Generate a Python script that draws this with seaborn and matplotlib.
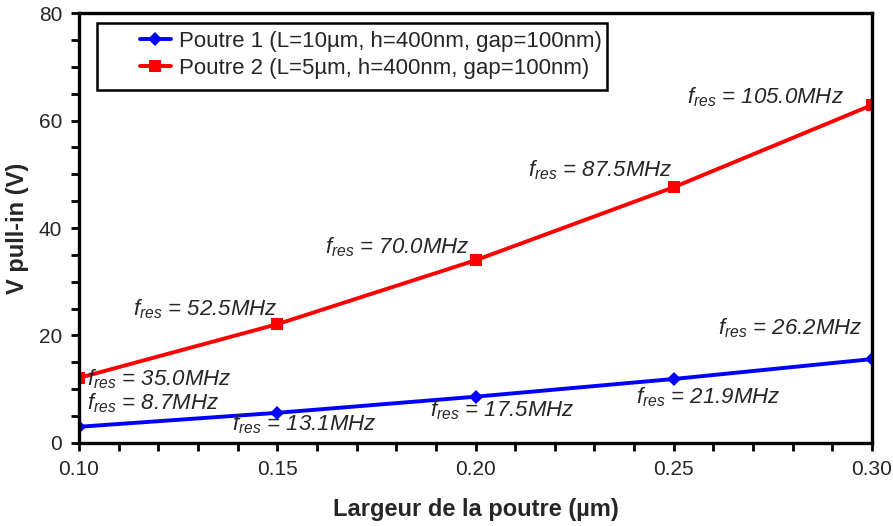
import matplotlib
matplotlib.use("Agg")
import matplotlib.pyplot as plt
import seaborn as sns
import pandas as pd
from matplotlib.ticker import MultipleLocator, FormatStrFormatter
from matplotlib.patches import Rectangle

sns.set_style("white")
plt.rcParams['font.family'] = ['Liberation Sans', 'DejaVu Sans']
plt.rcParams['mathtext.fontset'] = 'custom'
plt.rcParams['mathtext.it'] = 'Liberation Sans:italic'
plt.rcParams['mathtext.rm'] = 'Liberation Sans:italic'

largeur = [0.10, 0.15, 0.20, 0.25, 0.30]
v_poutre1 = [3.0, 5.6, 8.6, 11.9, 15.6]
v_poutre2 = [12.1, 22.1, 34.0, 47.6, 62.9]
label1 = "Poutre 1 (L=10µm, h=400nm, gap=100nm)"
label2 = "Poutre 2 (L=5µm, h=400nm, gap=100nm)"

f_res1 = ["8.7MHz", "13.1MHz", "17.5MHz", "21.9MHz", "26.2MHz"]
f_res2 = ["35.0MHz", "52.5MHz", "70.0MHz", "87.5MHz", "105.0MHz"]
pos1 = [(0.102, 7.3), (0.1386, 3.5), (0.1885, 6.0), (0.2405, 8.5), (0.2612, 21.3)]
pos2 = [(0.102, 11.8), (0.1136, 24.8), (0.162, 36.4), (0.2132, 50.7), (0.2533, 64.3)]

df = pd.DataFrame({
    "x": largeur + largeur,
    "y": v_poutre1 + v_poutre2,
    "serie": [label1] * len(largeur) + [label2] * len(largeur),
})

fig = plt.figure(figsize=(8.93, 5.26), dpi=100)
ax = fig.add_axes([0.0885, 0.158, 0.888, 0.817])

sns.lineplot(data=df, x="x", y="y", hue="serie", style="serie",
             palette={label1: "#0000FF", label2: "#FF0000"},
             markers={label1: "D", label2: "s"}, dashes=False,
             linewidth=2.8, markersize=8.5, markeredgewidth=0, ax=ax, legend=True)
for ln in ax.lines:
    if ln.get_marker() == "D":
        ln.set_markersize(7)

ax.set_xlim(0.10, 0.30)
ax.set_ylim(0, 80)
ax.xaxis.set_major_locator(MultipleLocator(0.05))
ax.xaxis.set_minor_locator(MultipleLocator(0.01))
ax.yaxis.set_major_locator(MultipleLocator(20))
ax.yaxis.set_minor_locator(MultipleLocator(5))
ax.xaxis.set_major_formatter(FormatStrFormatter("%.2f"))

for s in ax.spines.values():
    s.set_linewidth(2.4)
    s.set_color("black")
ax.tick_params(which="both", direction="out", length=6, width=2, color="black",
               left=True, bottom=True, top=False, right=False)
ax.tick_params(which="major", labelsize=15, pad=6)

ax.set_xlabel("Largeur de la poutre (µm)", fontsize=17, fontweight="bold", labelpad=14)
ax.set_ylabel("V pull-in (V)", fontsize=17, fontweight="bold", labelpad=7)

for txt, (x, y) in zip(f_res1 + f_res2, pos1 + pos2):
    ax.text(x, y, r"$f_{res}$ = " + txt, fontsize=16, fontstyle="italic",
            ha="left", va="center")

# legend frame
ax.add_patch(Rectangle((0.0227, 0.821), 0.643, 0.156, transform=ax.transAxes,
                       facecolor="white", edgecolor="black", linewidth=1.8, zorder=4))
leg = ax.legend(loc="upper left", bbox_to_anchor=(0.068, 0.975), fontsize=16,
                frameon=False, handlelength=1.4, handletextpad=0.35,
                labelspacing=0.3, borderaxespad=0, borderpad=0.3)
leg.set_zorder(5)

fig.savefig("out.png", dpi=100)
